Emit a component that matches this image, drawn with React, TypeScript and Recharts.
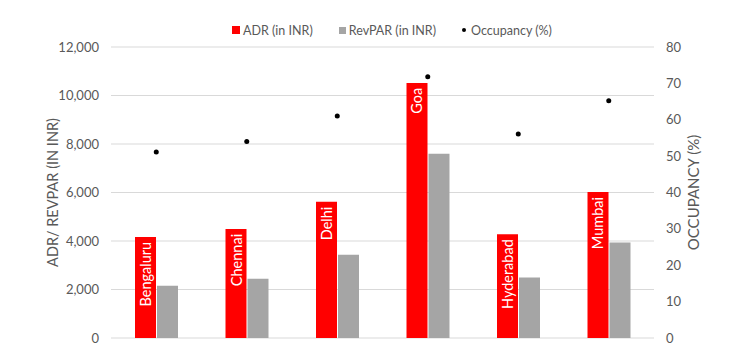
import { ComposedChart, Bar, Line, XAxis, YAxis, CartesianGrid, Legend, LabelList } from 'recharts';

const cities = ['Bengaluru', 'Chennai', 'Delhi', 'Goa', 'Hyderabad', 'Mumbai'];
const adr = [4170, 4500, 5620, 10520, 4280, 6020];
const revpar = [2150, 2440, 3430, 7600, 2490, 3940];
const occupancy = [51.1, 54.0, 61.0, 71.8, 56.1, 65.2];

const leftTicks = [0, 2000, 4000, 6000, 8000, 10000, 12000];
const rightTicks = [0, 10, 20, 30, 40, 50, 60, 70, 80];

const data = cities.map((city, i) => ({
  city,
  adr: adr[i],
  revpar: revpar[i],
  occupancy: occupancy[i],
}));

const FONT = 'Lato, "Noto Sans", sans-serif';
const GREY_TEXT = '#595959';

function CityLabel(props: any) {
  const { x, y, width, value } = props;
  const cx = x + width / 2;
  const ty = y + 5;
  return (
    <text
      x={cx}
      y={ty}
      transform={`rotate(-90, ${cx}, ${ty})`}
      textAnchor="end"
      dominantBaseline="central"
      fill="#fff"
      fontSize={14.5}
      fontFamily={FONT}
    >
      {value}
    </text>
  );
}

function ChartLegend() {
  const item = { display: 'flex', alignItems: 'center', gap: 3 } as const;
  return (
    <div style={{ display: 'flex', justifyContent: 'center', gap: 26, fontSize: 12.5, color: GREY_TEXT, fontFamily: FONT, height: 20, alignItems: 'center', paddingLeft: 40 }}>
      <div style={item}>
        <span style={{ width: 8, height: 8, background: '#ff0000', display: 'inline-block' }} />
        <span>ADR (in INR)</span>
      </div>
      <div style={item}>
        <span style={{ width: 7, height: 7, background: '#a5a5a5', display: 'inline-block' }} />
        <span>RevPAR (in INR)</span>
      </div>
      <div style={item}>
        <span style={{ width: 4, height: 4, borderRadius: 2, background: '#000', display: 'inline-block', marginRight: 2 }} />
        <span>Occupancy (%)</span>
      </div>
    </div>
  );
}

const axisTitle = (text: string, dx: number, size: number) => (props: any) => {
  const { viewBox } = props;
  const cx = viewBox.x + dx;
  const cy = viewBox.y + viewBox.height / 2;
  return (
    <text
      x={cx}
      y={cy}
      transform={`rotate(-90, ${cx}, ${cy})`}
      textAnchor="middle"
      dominantBaseline="central"
      fill={GREY_TEXT}
      fontSize={size}
      fontFamily={FONT}
    >
      {text}
    </text>
  );
};

export default function App() {
  return (
    <div style={{ position: 'fixed', left: 0, top: 0, width: 744, height: 360, background: '#fff' }}>
      <ComposedChart
        width={744}
        height={360}
        data={data}
        margin={{ top: 27, right: 0, bottom: 22, left: 0 }}
        barSize={21}
        barGap={1}
        style={{ fontFamily: FONT }}
      >
        <CartesianGrid yAxisId="left" vertical={false} stroke="#d9d9d9" />
        <XAxis dataKey="city" hide />
        <YAxis
          yAxisId="left"
          width={111}
          domain={[0, 12000]}
          ticks={leftTicks}
          tickFormatter={(v: number) => v.toLocaleString('en-US')}
          axisLine={false}
          tickLine={false}
          tickMargin={6}
          tick={{ fill: GREY_TEXT, fontSize: 13 }}
          label={{ content: axisTitle('ADR/ REVPAR (IN INR)', 52, 14.5) }}
        />
        <YAxis
          yAxisId="right"
          orientation="right"
          width={90}
          domain={[0, 80]}
          ticks={rightTicks}
          axisLine={false}
          tickLine={false}
          tickMargin={6}
          tick={{ fill: GREY_TEXT, fontSize: 13 }}
          label={{ content: axisTitle('OCCUPANCY (%)', 39, 15) }}
        />
        <Legend verticalAlign="top" wrapperStyle={{ top: 20 }} content={() => <ChartLegend />} />
        <Bar yAxisId="left" dataKey="adr" name="ADR (in INR)" fill="#ff0000" isAnimationActive={false}>
          <LabelList dataKey="city" content={CityLabel} />
        </Bar>
        <Bar yAxisId="left" dataKey="revpar" name="RevPAR (in INR)" fill="#a5a5a5" isAnimationActive={false} />
        <Line
          yAxisId="right"
          dataKey="occupancy"
          name="Occupancy (%)"
          stroke="none"
          dot={{ r: 2.5, fill: '#000', stroke: '#000', strokeWidth: 0 }}
          activeDot={false}
          isAnimationActive={false}
        />
      </ComposedChart>
    </div>
  );
}
